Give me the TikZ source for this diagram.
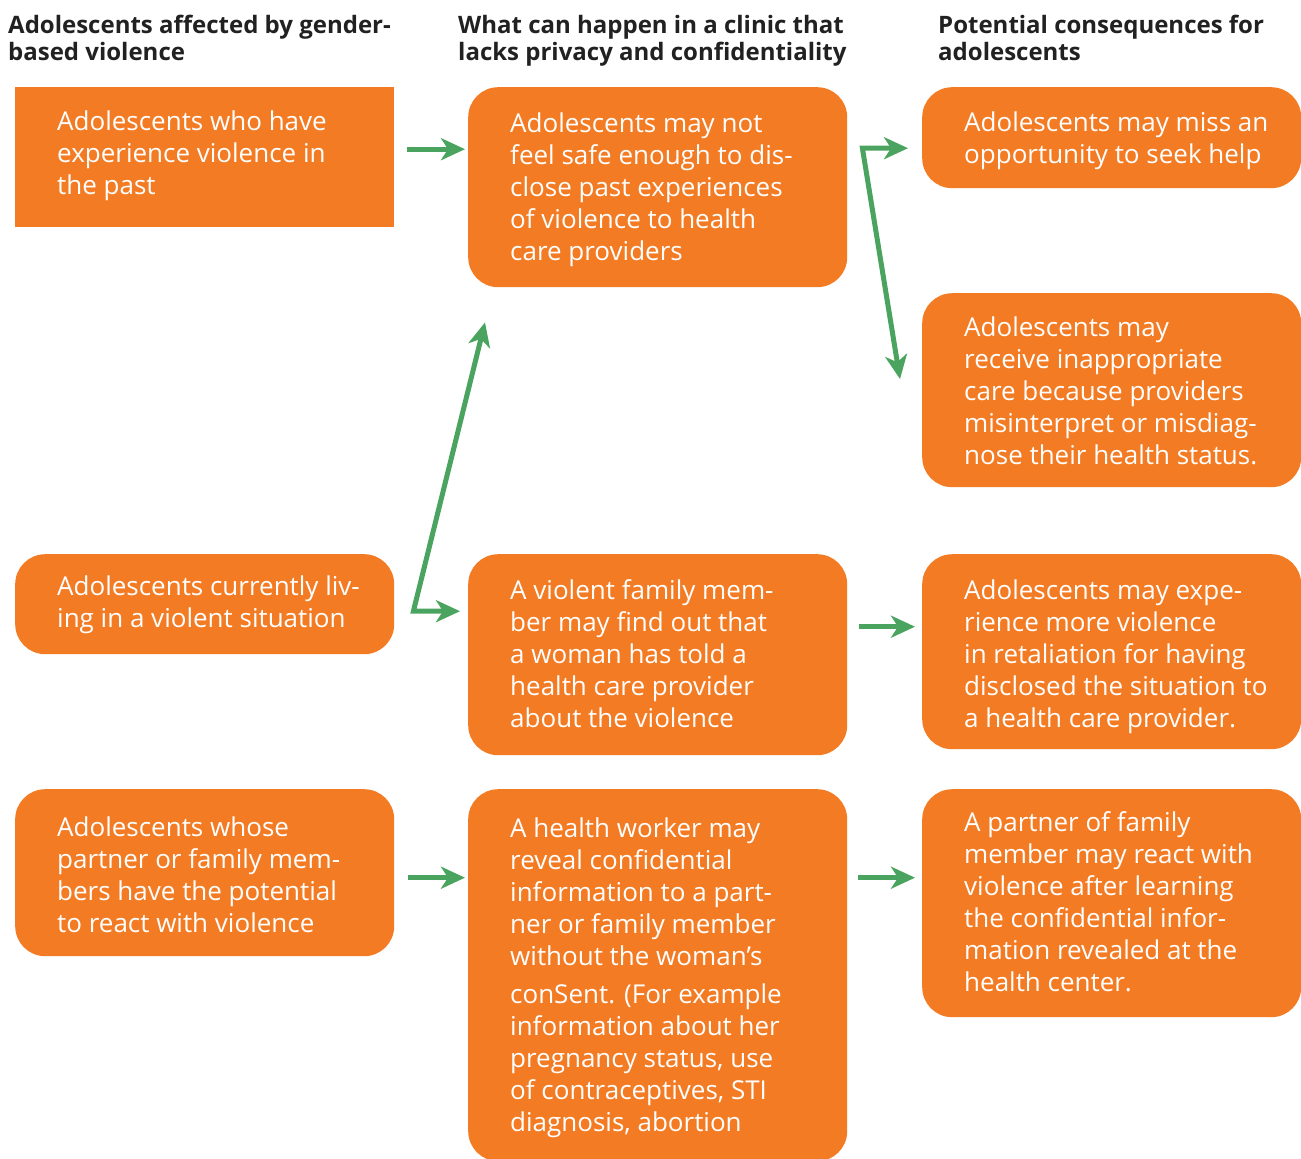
\documentclass[tikz,border=0pt]{standalone}
\usepackage{fontspec}
\setmainfont{Open Sans}
\newfontfamily\headfont{Open Sans Bold}
\usetikzlibrary{arrows.meta,calc}
\definecolor{boxorange}{RGB}{243,123,35}
\definecolor{arrowgreen}{RGB}{74,163,94}
\begin{document}
\begin{tikzpicture}[x=1pt,y=-1pt,
  box/.style={fill=boxorange, draw=none, rounded corners=30pt, anchor=north west,
              inner sep=0pt, minimum width=379pt},
  sqbox/.style={box, sharp corners},
  txt/.style={anchor=north west, inner sep=0pt, align=left, text=white,
              font=\fontsize{26}{32}\selectfont},
  head/.style={anchor=north west, inner sep=0pt, align=left, text=black!87,
               font=\headfont\fontsize{24}{25.5}\selectfont},
  tipg/.tip={Stealth[length=24pt,width=22pt,inset=7pt]},
  arr/.style={draw=arrowgreen, line width=5pt, -tipg, fill=arrowgreen},
  dbl/.style={draw=arrowgreen, line width=5pt, tipg-tipg, line join=miter, fill=none},
]
\useasboundingbox (0,0) rectangle (1301,1159);

% column headings
\node[head] (h1) at (8,33-17.85) {\strut Adolescents affected by gender-\\based violence};
\node[head] (h2) at (458,33-17.85) {\strut What can happen in a clinic that\\lacks privacy and confidentiality};
\node[head] (h3) at (938,33-17.85) {\strut Potential consequences for\\adolescents};

% left column
\node[sqbox, minimum height=140pt] (L1) at (15,87) {};
\node[box, minimum height=100pt] (L2) at (15,554) {};
\node[box, minimum height=167pt] (L3) at (15,789) {};
% middle column
\node[box, minimum height=200pt] (M1) at (468,87) {};
\node[box, minimum height=201pt] (M2) at (468,554) {};
\node[box, minimum height=372pt] (M3) at (468,789) {};
% right column
\node[box, minimum height=101pt] (R1) at (922,87) {};
\node[box, minimum height=194pt] (R2) at (922,293) {};
\node[box, minimum height=195pt] (R3) at (922,554) {};
\node[box, minimum height=228pt] (R4) at (922,789) {};

% box texts (first baseline placed via strut height)
\node[txt] (L1t) at ($(L1.north west)+(42,43-22.4)$) {\strut Adolescents who have\\experience violence in\\the past};
\node[txt] (L2t) at ($(L2.north west)+(42,41-22.4)$) {\strut Adolescents currently liv-\\ing in a violent situation};
\node[txt] (L3t) at ($(L3.north west)+(42,47-22.4)$) {\strut Adolescents whose\\partner or family mem-\\bers have the potential\\to react with violence};

\node[txt] (M1t) at ($(M1.north west)+(42,45-22.4)$) {\strut Adolescents may not\\feel safe enough to dis-\\close past experiences\\of violence to health\\care providers};
\node[txt] (M2t) at ($(M2.north west)+(42,45-22.4)$) {\strut A violent family mem-\\ber may find out that\\a woman has told a\\health care provider\\about the violence};
\node[txt] (M3t) at ($(M3.north west)+(42,48-22.4)$) {\strut A health worker may\\reveal confidential\\information to a part-\\ner or family member\\without the woman’s\\[6pt]conSent. (For example\\information about her\\pregnancy status, use\\of contraceptives, STI\\diagnosis, abortion};

\node[txt] (R1t) at ($(R1.north west)+(42,44-22.4)$) {\strut Adolescents may miss an\\opportunity to seek help};
\node[txt] (R2t) at ($(R2.north west)+(42,43-22.4)$) {\strut Adolescents may\\receive inappropriate\\care because providers\\misinterpret or misdiag-\\nose their health status.};
\node[txt] (R3t) at ($(R3.north west)+(42,45-22.4)$) {\strut Adolescents may expe-\\rience more violence\\in retaliation for having\\disclosed the situation to\\a health care provider.};
\node[txt] (R4t) at ($(R4.north west)+(42,42-22.4)$) {\strut A partner of family\\member may react with\\violence after learning\\the confidential infor-\\mation revealed at the\\health center.};

% junction points of the split connectors
\coordinate (j1) at ($(L2.east)+(19,7)$);
\coordinate (j2) at ($(M1.east)+(15,-39)$);

% connectors
\draw[arr] ($(L1.east)+(13,-8)$) -- ($(M1.west |- L1.east)+(-3,-8)$);
\draw[dbl] ($(M1.south west)+(17,35)$) -- (j1) -- ($(M2.west |- j1)+(-8,0)$);
\draw[dbl] ($(R1.west |- j2)+(-14,0)$) -- (j2) -- ($(R2.north west)+(-22,86)$);
\draw[arr] ($(M2.east)+(12,-28)$) -- ($(R3.west |- M2.east)+(-7,-28)$);
\draw[arr] ($(L3.east)+(14,5)$) -- ($(M3.west |- L3.east)+(-3,5)$);
\draw[arr] ($(M3.west |- L3.east)+(390,5)$) -- ($(R4.west |- L3.east)+(-7,5)$);
\end{tikzpicture}
\end{document}
